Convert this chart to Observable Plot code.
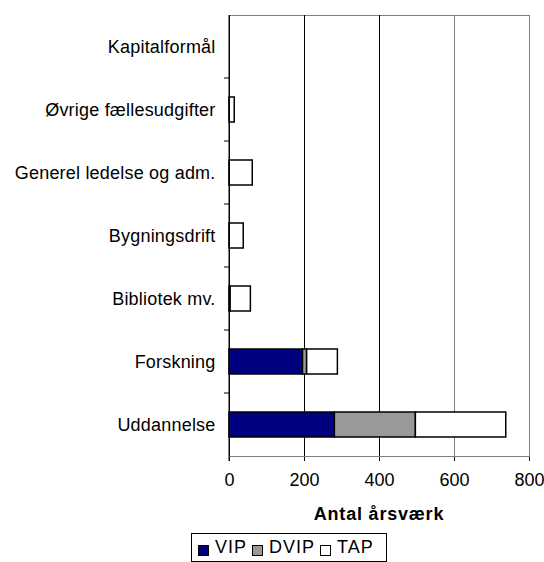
<!DOCTYPE html>
<html>
<head>
<meta charset="utf-8">
<script src="https://cdn.jsdelivr.net/npm/d3@7"></script>
<script src="https://cdn.jsdelivr.net/npm/@observablehq/plot@0.6"></script>
<style>
  body { margin: 0; background: #fff; font-family: "Liberation Sans", Arial, sans-serif; }
  #chart svg { display: block; }
  .legend { position: absolute; left: 191px; top: 533px; width: 196px; height: 29px; border: 1px solid #000;
    display: flex; align-items: center; padding: 0 0 0 6px; font-size: 18px; letter-spacing: 1px; box-sizing: border-box; }
  .legend span.sw { display: inline-block; width: 11px; height: 11px; border: 1px solid #000; margin: 0 6px 0 0; box-sizing: border-box; position: relative; top: 3px; }
  .legend span.lab { margin-right: 5px; }
</style>
</head>
<body>
<div id="chart"></div>
<script>
const categories = ["Kapitalformål", "Øvrige fællesudgifter", "Generel ledelse og adm.", "Bygningsdrift", "Bibliotek mv.", "Forskning", "Uddannelse"];
const series = ["VIP", "DVIP", "TAP"];
const vip  = [0, 0, 0, 0, 3, 196, 281];
const dvip = [0, 0, 0, 0, 0, 11, 216];
const tap  = [0, 14, 62, 38, 54, 82, 241];
const xTicks = [0, 200, 400, 600, 800];
const colors = ["#000080", "#999999", "#ffffff"];

const data = [];
categories.forEach((c, i) => {
  data.push({cat: c, series: "VIP", value: vip[i]});
  data.push({cat: c, series: "DVIP", value: dvip[i]});
  data.push({cat: c, series: "TAP", value: tap[i]});
});

const chart = Plot.plot({
  width: 544,
  height: 528,
  marginLeft: 229,
  marginRight: 15,
  marginTop: 15,
  marginBottom: 72,
  style: {fontFamily: "Liberation Sans, Arial, sans-serif", fontSize: "18px", color: "#000", background: "#fff"},
  x: {domain: [0, 800], ticks: xTicks, tickSize: 5, tickPadding: 12, label: null, line: true},
  y: {domain: categories, paddingInner: 0.6, paddingOuter: 0.3, tickSize: 0, tickPadding: 14, label: null},
  color: {domain: series, range: colors},
  marks: [
    Plot.frame({stroke: "#808080"}),
    Plot.ruleX([200, 400], {stroke: "#000"}),
    Plot.ruleX([600], {stroke: "#808080"}),
    Plot.barX(data, Plot.stackX({x: "value", y: "cat", fill: "series", order: series, stroke: "#000", strokeWidth: 1.5})),
    Plot.ruleX([0], {stroke: "#000"})
  ]
});

document.getElementById("chart").appendChild(chart);

// y tick marks at band boundaries and axis title, positioned with the plot's scales
const svg = d3.select(chart);
const ys = chart.scale("y");
const xs = chart.scale("x");
const x0 = xs.apply(0);
const step = ys.step;
const bounds = categories.slice(0, -1).map(c => ys.apply(c) + ys.bandwidth / 2 + step / 2);
const y0 = ys.apply(categories[0]) + ys.bandwidth / 2 - step / 2;
const yEnd = ys.apply(categories[categories.length - 1]) + ys.bandwidth / 2 + step / 2;
svg.append("g").selectAll("line").data(bounds).join("line")
  .attr("x1", x0 - 5).attr("x2", x0).attr("y1", d => d).attr("y2", d => d)
  .attr("stroke", "#000");
svg.append("line").attr("x1", x0).attr("x2", x0).attr("y1", y0).attr("y2", yEnd + 5).attr("stroke", "#000");
svg.append("text")
  .attr("x", (xs.apply(0) + xs.apply(800)) / 2)
  .attr("y", 520)
  .attr("text-anchor", "middle")
  .attr("font-weight", "bold")
  .attr("font-size", 18)
  .attr("letter-spacing", "0.8px")
  .text("Antal årsværk");
svg.selectAll("[aria-label='y-axis tick label'] text").attr("letter-spacing", "0.2px");

// legend
const legend = document.createElement("div");
legend.className = "legend";
series.forEach((s, i) => {
  const sw = document.createElement("span");
  sw.className = "sw";
  sw.style.background = colors[i];
  const lab = document.createElement("span");
  lab.className = "lab";
  lab.textContent = s;
  legend.appendChild(sw);
  legend.appendChild(lab);
});
document.body.appendChild(legend);
</script>
</body>
</html>
